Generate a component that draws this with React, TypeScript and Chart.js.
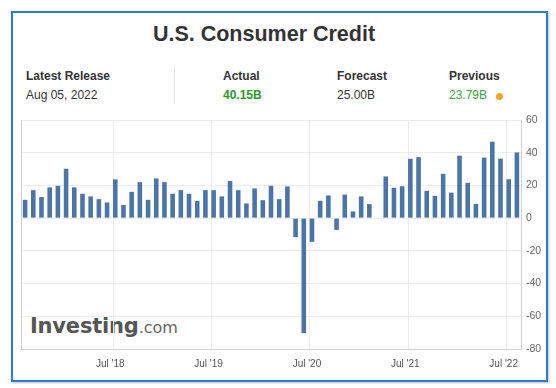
import React, { useEffect, useRef } from "react";
import { Chart, registerables } from "chart.js";

Chart.register(...registerables);

// Release months, first bar = Aug 2017 release, last bar = Aug 2022 release
const firstReleaseYear = 2017;
const firstReleaseMonth = 8;
const releaseCount = 61;
const releaseMonths: string[] = Array.from({ length: releaseCount }, (_, i) => {
  const m = firstReleaseMonth - 1 + i;
  const y = firstReleaseYear + Math.floor(m / 12);
  const mm = (m % 12) + 1;
  return `${y}-${String(mm).padStart(2, "0")}`;
});

// Monthly change in consumer credit (USD billions)
const creditValues: (number | null)[] = [
  11.2, 17.1, 12.9, 18.8, 19.8, 30.2, 18.8, 14.9, 13.3, 11.6,
  9.6, 23.7, 8.0, 16.1, 22.0, 11.2, 24.3, 22.0, 14.9, 17.1,
  14.9, 10.6, 17.1, 17.1, 13.3, 22.7, 17.1, 9.0, 18.2, 11.0,
  19.8, 11.6, 19.4, -11.6, -70.3, -14.5, 10.6, 13.9, -7.2, 14.4,
  4.1, 13.3, 8.6, null, 25.5, 18.6, 19.5, 36.3, 37.3, 16.7,
  13.6, 27.1, 15.6, 38.2, 21.6, 8.7, 37.0, 46.7, 36.4, 23.79,
  40.15,
];

const xTickLabels = ["Jul '18", "Jul '19", "Jul '20", "Jul '21", "Jul '22"];
const xTickMonths = ["2018-07", "2019-07", "2020-07", "2021-07", "2022-07"];
const yMin = -80;
const yMax = 60;
const yStep = 20;

const titleText = "U.S. Consumer Credit";
const latestRelease = "Aug 05, 2022";
const actualValue = "40.15B";
const forecastValue = "25.00B";
const previousValue = "23.79B";

const FONT = "'Liberation Sans', Arial, Helvetica, sans-serif";

const leftBorderPlugin = {
  id: "leftBorder",
  beforeDatasetsDraw(chart: any) {
    const { ctx, chartArea } = chart;
    ctx.save();
    ctx.strokeStyle = "#cfcfcf";
    ctx.lineWidth = 1;
    ctx.beginPath();
    ctx.moveTo(Math.round(chartArea.left) + 0.5, chartArea.top);
    ctx.lineTo(Math.round(chartArea.left) + 0.5, chartArea.bottom);
    ctx.stroke();
    ctx.restore();
  },
};

function ConsumerCreditChart() {
  const canvasRef = useRef<HTMLCanvasElement | null>(null);

  useEffect(() => {
    if (!canvasRef.current) return;
    // release falls about a week into the month, so July 1st sits a quarter month before the July bar
    const tickValues = xTickMonths.map((m) => releaseMonths.indexOf(m) - 0.25);
    const chart = new Chart(canvasRef.current, {
      type: "bar",
      data: {
        datasets: [
          {
            label: "Consumer Credit",
            data: creditValues.map((v, i) => ({ x: i, y: v })) as any,
            backgroundColor: "#4b74a9",
            borderWidth: 0,
            categoryPercentage: 1,
            barPercentage: 0.56,
          },
        ],
      },
      options: {
        animation: false,
        responsive: false,
        maintainAspectRatio: false,
        layout: { padding: { left: 21, top: 120, right: 5, bottom: 19 } },
        plugins: { legend: { display: false }, tooltip: { enabled: false } },
        scales: {
          x: {
            type: "linear",
            min: -0.5,
            max: releaseCount - 0.5,
            offset: false,
            afterBuildTicks: (scale: any) => {
              scale.ticks = tickValues.map((v) => ({ value: v }));
            },
            afterFit: (scale: any) => {
              scale.height = 20;
            },
            grid: { color: "#ececec", drawTicks: false, offset: false },
            border: { display: true, color: "#cfcfcf" },
            ticks: {
              autoSkip: false,
              maxRotation: 0,
              padding: 9,
              labelOffset: -3,
              color: "#555",
              font: { family: FONT, size: 10 },
              callback: (_v: any, index: number) => xTickLabels[index],
            },
          },
          y: {
            position: "right",
            min: yMin,
            max: yMax,
            afterFit: (scale: any) => {
              scale.width = 30;
            },
            grid: { color: "#ececec", drawTicks: false },
            border: { display: true, color: "#cfcfcf" },
            ticks: {
              stepSize: yStep,
              padding: 5,
              color: "#666",
              font: { family: FONT, size: 10.5 },
            },
          },
        },
      },
      plugins: [leftBorderPlugin],
    });
    return () => chart.destroy();
  }, []);

  return (
    <canvas
      ref={canvasRef}
      width={556}
      height={388}
      style={{ position: "absolute", left: 0, top: 0, width: 556, height: 388 }}
    />
  );
}

export default function App() {
  const label: React.CSSProperties = {
    position: "absolute",
    top: 69,
    fontFamily: FONT,
    fontSize: 12,
    lineHeight: "14px",
    fontWeight: "bold",
    color: "#333",
    whiteSpace: "nowrap",
  };
  const value: React.CSSProperties = {
    position: "absolute",
    top: 88,
    fontFamily: FONT,
    fontSize: 12,
    lineHeight: "14px",
    color: "#333",
    whiteSpace: "nowrap",
  };
  return (
    <div
      style={{
        position: "fixed",
        left: 0,
        top: 0,
        width: 556,
        height: 388,
        background: "#fff",
        overflow: "hidden",
      }}
    >
      <div
        style={{
          position: "absolute",
          left: 11,
          top: 11,
          width: 537,
          height: 371,
          boxSizing: "border-box",
          border: "2px solid #2b7cd3",
          background: "#fff",
          boxShadow: "1px 1px 2px rgba(0,0,0,0.25)",
        }}
      />
      <div
        style={{
          position: "absolute",
          left: 0,
          top: 22,
          width: 528,
          textAlign: "center",
          fontFamily: FONT,
          fontSize: 21.5,
          lineHeight: "24px",
          fontWeight: "bold",
          color: "#333",
        }}
      >
        {titleText}
      </div>
      <div style={{ ...label, left: 26 }}>Latest Release</div>
      <div style={{ ...value, left: 26 }}>{latestRelease}</div>
      <div
        style={{
          position: "absolute",
          left: 174,
          top: 67,
          width: 1,
          height: 37,
          background: "#e6e6e6",
        }}
      />
      <div style={{ ...label, left: 223 }}>Actual</div>
      <div style={{ ...value, left: 223, color: "#279c27", fontWeight: "bold" }}>{actualValue}</div>
      <div style={{ ...label, left: 337 }}>Forecast</div>
      <div style={{ ...value, left: 337 }}>{forecastValue}</div>
      <div style={{ ...label, left: 449 }}>Previous</div>
      <div style={{ ...value, left: 449, color: "#36a836" }}>{previousValue}</div>
      <div
        style={{
          position: "absolute",
          left: 495.5,
          top: 92.5,
          width: 7,
          height: 7,
          borderRadius: "50%",
          background: "#f5a623",
        }}
      />
      <div
        style={{
          position: "absolute",
          left: 30,
          top: 315,
          lineHeight: "22px",
          whiteSpace: "nowrap",
          fontFamily: "'DejaVu Sans', sans-serif",
        }}
      >
        <span style={{ fontSize: 21, fontWeight: "bold", color: "#555", letterSpacing: -0.2 }}>
          Investing
        </span>
        <span style={{ fontSize: 16, color: "#666" }}>.com</span>
      </div>
      <ConsumerCreditChart />
    </div>
  );
}
